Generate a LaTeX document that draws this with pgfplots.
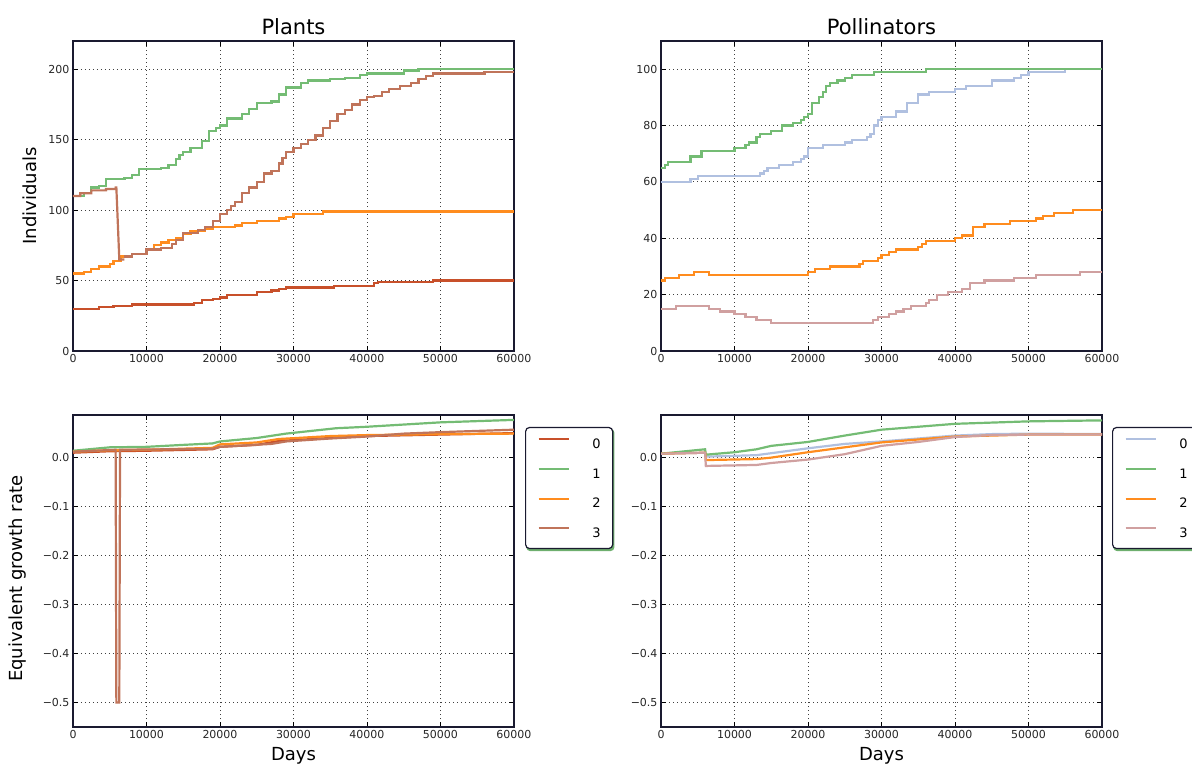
\documentclass[border=0pt]{standalone}
\usepackage{fontspec}
\setmainfont{DejaVu Sans}
\usepackage{pgfplots}
\pgfplotsset{compat=1.18}
\usetikzlibrary{backgrounds}
\definecolor{cA}{HTML}{C8502A}
\definecolor{cG}{HTML}{74BC74}
\definecolor{cO}{HTML}{FF8C1E}
\definecolor{cB}{HTML}{C0745A}
\definecolor{cL}{HTML}{B0C0E0}
\definecolor{cP}{HTML}{D0A0A0}
\definecolor{spine}{HTML}{1A1A30}
\definecolor{shad}{RGB}{110,175,110}
\pgfplotsset{
  base/.style={
    scale only axis, width=441pt,
    xmin=0, xmax=60000, scaled x ticks=false, scaled y ticks=false,
    xtick={0,10000,20000,30000,40000,50000,60000},
    xticklabels={0,10000,20000,30000,40000,50000,60000},
    grid=major, grid style={black!75, line width=0.9pt, dash pattern=on 1pt off 3pt},
    tick align=inside, major tick length=5pt,
    axis line style={line width=1.2pt, spine},
    tick style={black, line width=0.9pt},
    ticklabel style={font=\fontsize{11}{13}\selectfont, text=black!85},
    title style={font=\fontsize{21}{24}\selectfont, yshift=-3pt},
    xlabel style={font=\fontsize{18}{20}\selectfont, at={(axis description cs:0.5,-0.106)}, anchor=base},
  },
  ln/.style={line width=2.2pt},
  leg/.style 2 args={
    legend style={at={(axis description cs:#1,0.962)}, anchor=north west, name=#2,
      draw=spine, line width=1.2pt, rounded corners=4pt, fill=white,
      font=\fontsize{13}{15}\selectfont,
      nodes={inner sep=0pt, text height=9.5pt, text depth=0pt},
      row sep=19.5pt, column sep=23pt, inner xsep=12pt, inner ysep=11pt},
    legend cell align=left,
    legend image code/.code={\draw[##1, line width=1.8pt, sharp corners] (0pt,4.5pt) -- (30pt,4.5pt);},
  },
}
\begin{document}
\begin{tikzpicture}[x=1pt,y=1pt]
\path[use as bounding box] (0,0) rectangle (1192,764);
% ---------------- Plants: individuals
\begin{axis}[base, at={(73pt,413pt)}, anchor=south west, height=310pt,
  ymin=0, ymax=220, ytick={0,50,100,150,200}, yticklabels={0,50,100,150,200},
  title=Plants, ylabel=Individuals,
  ylabel style={font=\fontsize{18}{20}\selectfont, at={(axis description cs:-0.0975,0.5)}, anchor=center}]
\addplot[ln, cA, const plot] coordinates {(0,30)(3500,31)(5500,32)(8000,33)(16500,34)(17500,36)(19000,37)(20000,38)(21000,40)(25000,42)(27000,43)(28000,44)(29000,45)(35500,46)(41000,48)(41500,49)(49000,50)(60000,50)};
\addplot[ln, cG, const plot] coordinates {(0,110)(1500,112)(2500,116)(3500,117)(4500,122)(7000,123)(8000,125)(9000,129)(12000,130)(13000,132)(14000,136)(14500,139)(15000,141)(16000,144)(17500,149)(18500,156)(19500,158)(20000,160)(21000,165)(23000,168)(24000,172)(25000,176)(27000,177)(28000,182)(29000,187)(31000,190)(32000,192)(35000,193)(37000,194)(39000,196)(40000,197)(45000,199)(47000,200)(60000,200)};
\addplot[ln, cO, const plot] coordinates {(0,55)(1500,56)(2500,58)(3500,60)(5000,62)(5500,64)(6500,67)(8000,69)(10000,72)(11000,75)(12000,77)(13000,79)(14000,80)(15000,83)(16000,85)(18000,87)(19000,88)(22000,89)(23000,91)(25000,92)(28000,94)(29000,95)(30000,97)(34000,99)(60000,99)};
\addplot[ln, cB] coordinates {(0,110)(1000,110)(1000,112)(2500,112)(2500,114)(4500,114)(4500,115)(5800,115)(5800,116)(5900,116)(6300,65)(7000,65)};
\addplot[ln, cB, const plot] coordinates {(7000,67)(8000,69)(10000,72)(12000,73)(13500,76)(14000,79)(15000,84)(17000,86)(18000,88)(19000,92)(20000,97)(21000,100)(21500,103)(22000,106)(23000,112)(24000,116)(25000,120)(26000,126)(27000,128)(28000,133)(28500,137)(29000,141)(30000,144)(31000,147)(32000,150)(33000,153)(34000,158)(35000,163)(36000,168)(37000,171)(38000,175)(39000,178)(40000,180)(41000,181)(42000,184)(43000,186)(44500,188)(46000,190)(47000,193)(48000,195)(49000,197)(56000,198)(60000,198)};
\end{axis}
% ---------------- Pollinators: individuals
\begin{axis}[base, at={(661pt,413pt)}, anchor=south west, height=310pt,
  ymin=0, ymax=110, ytick={0,20,40,60,80,100}, yticklabels={0,20,40,60,80,100},
  title=Pollinators]
\addplot[ln, cL, const plot] coordinates {(0,60)(4000,61)(5000,62)(13500,63)(14000,64)(14500,65)(16000,66)(18000,67)(19000,68)(19500,69)(20000,72)(22000,73)(25000,74)(26000,75)(28000,76)(28500,77)(29000,80)(29500,82)(30000,83)(32000,85)(33500,88)(35000,91)(36500,92)(40000,93)(41500,94)(45000,96)(48000,97)(49000,98)(50000,99)(55000,100)(60000,100)};
\addplot[ln, cG, const plot] coordinates {(0,65)(500,66)(1000,67)(4000,69)(5500,71)(10000,72)(11500,73)(12000,74)(13000,76)(13500,77)(15000,78)(16500,80)(18000,81)(19000,82)(19500,83)(20000,84)(20500,88)(21500,90)(22000,92)(22500,94)(23000,95)(24000,96)(25000,97)(26000,98)(29000,99)(36000,100)(60000,100)};
\addplot[ln, cO, const plot] coordinates {(0,25)(500,26)(2500,27)(4500,28)(6500,27)(20000,28)(21000,29)(23000,30)(27000,31)(27500,32)(29500,33)(30000,34)(31000,35)(32000,36)(35000,37)(35500,38)(36000,39)(40000,40)(41000,41)(42500,44)(44000,45)(47500,46)(51000,47)(52000,48)(53500,49)(56000,50)(60000,50)};
\addplot[ln, cP, const plot] coordinates {(0,15)(2000,16)(6500,15)(8000,14)(10000,13)(11500,12)(13000,11)(15000,10)(28800,11)(29500,12)(31000,13)(32000,14)(33000,15)(34000,16)(36000,17)(36500,18)(37500,20)(39000,21)(41000,22)(42000,24)(44000,25)(48000,26)(51000,27)(57000,28)(60000,28)};
\end{axis}
% ---------------- Plants: growth rate
\begin{axis}[base, leg={1.025}{legL}, at={(73pt,37pt)}, anchor=south west, height=312pt,
  ymin=-0.55, ymax=0.087, ytick={-0.5,-0.4,-0.3,-0.2,-0.1,0},
  yticklabels={−0.5,−0.4,−0.3,−0.2,−0.1,0.0},
  xlabel=Days, ylabel=Equivalent growth rate,
  ylabel style={font=\fontsize{18}{20}\selectfont, at={(axis description cs:-0.125,0.475)}, anchor=center}]
\addplot[ln, cA] coordinates {(0,0.010)(5000,0.013)(10000,0.014)(19000,0.017)(20000,0.022)(25000,0.026)(28000,0.034)(35000,0.040)(40000,0.044)(50000,0.047)(60000,0.050)};
\addplot[ln, cG] coordinates {(0,0.014)(5000,0.021)(10000,0.022)(15000,0.026)(19000,0.029)(20000,0.033)(25000,0.040)(29000,0.049)(35800,0.060)(40000,0.063)(50000,0.072)(60000,0.077)};
\addplot[ln, cO] coordinates {(0,0.012)(5000,0.015)(10000,0.016)(19000,0.020)(20000,0.027)(25000,0.031)(28000,0.038)(35000,0.044)(40000,0.046)(50000,0.048)(60000,0.049)};
\addplot[ln, cB] coordinates {(0,0.012)(5800,0.016)(5900,-0.5)(6300,-0.5)(6400,0.016)(19000,0.018)(20000,0.022)(27000,0.028)(29000,0.033)(35000,0.039)(40000,0.043)(45000,0.049)(50000,0.052)(60000,0.057)};
\legend{0,1,2,3}
\end{axis}
% ---------------- Pollinators: growth rate
\begin{axis}[base, leg={1.0227}{legR}, at={(661pt,37pt)}, anchor=south west, height=312pt,
  ymin=-0.55, ymax=0.087, ytick={-0.5,-0.4,-0.3,-0.2,-0.1,0},
  yticklabels={−0.5,−0.4,−0.3,−0.2,−0.1,0.0},
  xlabel=Days]
\addplot[ln, cL] coordinates {(0,0.008)(6000,0.010)(6100,0.002)(13000,0.005)(20000,0.019)(25000,0.028)(30000,0.033)(35000,0.039)(40000,0.045)(45000,0.048)(50000,0.049)(60000,0.048)};
\addplot[ln, cG] coordinates {(0,0.008)(6000,0.017)(6100,0.006)(10000,0.011)(13000,0.017)(15000,0.024)(20000,0.032)(25000,0.045)(30000,0.057)(35000,0.063)(40000,0.069)(50000,0.074)(60000,0.076)};
\addplot[ln, cO] coordinates {(0,0.008)(6000,0.010)(6100,-0.005)(13000,-0.003)(15000,0.0)(20000,0.011)(25000,0.021)(30000,0.031)(35000,0.037)(40000,0.043)(50000,0.047)(60000,0.047)};
\addplot[ln, cP] coordinates {(0,0.008)(6000,0.010)(6100,-0.017)(13000,-0.015)(15000,-0.011)(20000,-0.004)(25000,0.007)(30000,0.024)(35000,0.032)(40000,0.042)(45000,0.046)(50000,0.047)(60000,0.047)};
\legend{0,1,2,3}
\end{axis}
\begin{pgfonlayer}{background}
\fill[shad, rounded corners=4pt] ([shift={(1.2pt,-2pt)}]legL.south west) rectangle ([shift={(1.2pt,-2pt)}]legL.north east);
\fill[shad, rounded corners=4pt] ([shift={(1.2pt,-2pt)}]legR.south west) rectangle ([shift={(1.2pt,-2pt)}]legR.north east);
\end{pgfonlayer}
\end{tikzpicture}
\end{document}
